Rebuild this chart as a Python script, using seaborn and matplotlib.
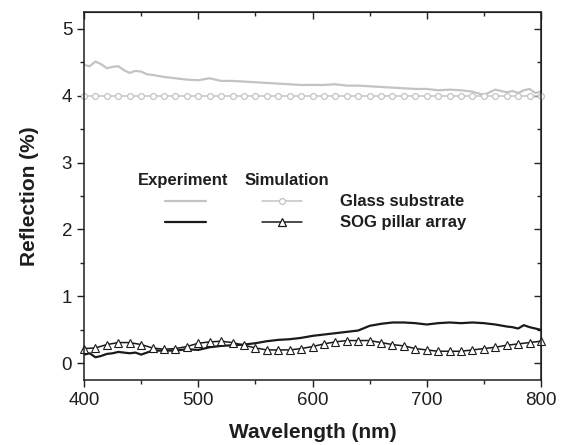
import numpy as np
import pandas as pd
import matplotlib
matplotlib.use("Agg")
import matplotlib.pyplot as plt
import seaborn as sns
from matplotlib.lines import Line2D

wl_exp = [400, 405, 410, 415, 420, 425, 430, 435, 440, 445, 450, 455, 460, 470, 480,
          490, 500, 510, 520, 530, 540, 550, 560, 570, 580, 590, 600, 610, 620, 630,
          640, 650, 660, 670, 680, 690, 700, 710, 720, 730, 740, 750, 760, 770, 775,
          780, 785, 790, 795, 800]
glass_exp = [4.46, 4.44, 4.51, 4.47, 4.41, 4.43, 4.44, 4.38, 4.34, 4.37, 4.36, 4.32, 4.31,
             4.28, 4.26, 4.24, 4.23, 4.26, 4.22, 4.22, 4.21, 4.20, 4.19, 4.18, 4.17, 4.16,
             4.16, 4.16, 4.17, 4.15, 4.15, 4.14, 4.13, 4.12, 4.11, 4.10, 4.10, 4.08, 4.09,
             4.08, 4.06, 4.01, 4.09, 4.05, 4.07, 4.04, 4.08, 4.10, 4.04, 4.06]
sog_exp = [0.13, 0.15, 0.09, 0.11, 0.14, 0.15, 0.17, 0.16, 0.15, 0.16, 0.13, 0.16, 0.19,
           0.19, 0.19, 0.21, 0.20, 0.24, 0.26, 0.27, 0.28, 0.30, 0.33, 0.35, 0.36, 0.38,
           0.41, 0.43, 0.45, 0.47, 0.49, 0.56, 0.59, 0.61, 0.61, 0.60, 0.58, 0.60, 0.61,
           0.60, 0.61, 0.60, 0.58, 0.55, 0.54, 0.52, 0.57, 0.54, 0.52, 0.50]

# simulated spectra, 10 nm steps
wl_sim = list(range(400, 801, 10))
glass_sim = [4.0] * len(wl_sim)
sog_sim = [0.22, 0.23, 0.28, 0.31, 0.31, 0.28, 0.23, 0.21, 0.22, 0.25, 0.30, 0.32, 0.33,
           0.31, 0.27, 0.23, 0.20, 0.20, 0.20, 0.22, 0.25, 0.29, 0.32, 0.34, 0.34, 0.34,
           0.31, 0.28, 0.26, 0.22, 0.20, 0.18, 0.18, 0.18, 0.20, 0.22, 0.24, 0.27, 0.29,
           0.31, 0.33]

GRAY = "#c3c3c3"
BLACK = "#1a1a1a"
TXT = "#1e1e1e"

sns.set_style("ticks")
plt.rcParams['font.family'] = ['Liberation Sans', 'DejaVu Sans']

fig = plt.figure(figsize=(5.62, 4.45), dpi=100)
ax = fig.add_axes([0.1495, 0.146, 0.8131, 0.827])

df_exp = pd.DataFrame({'wl': wl_exp, 'glass': glass_exp, 'sog': sog_exp})
df_sim = pd.DataFrame({'wl': wl_sim, 'glass': glass_sim, 'sog': sog_sim})

sns.lineplot(data=df_exp, x='wl', y='glass', color=GRAY, lw=1.6, ax=ax)
sns.lineplot(data=df_exp, x='wl', y='sog', color=BLACK, lw=1.6, ax=ax)
sns.lineplot(data=df_sim, x='wl', y='glass', color=GRAY, lw=1.1, marker='o', ms=4.2,
             mfc='white', mec=GRAY, mew=0.9, ax=ax, clip_on=False)
sns.lineplot(data=df_sim, x='wl', y='sog', color=BLACK, lw=1.1, marker='^', ms=5.8,
             mfc='white', mec=BLACK, mew=0.8, ax=ax, clip_on=False)

ax.set_xlim(400, 800)
ax.set_ylim(-0.25, 5.25)
ax.set_xticks([400, 500, 600, 700, 800])
ax.set_xticks(np.arange(450, 800, 100), minor=True)
ax.set_yticks([0, 1, 2, 3, 4, 5])
ax.set_yticks(np.arange(0.5, 5.1, 1.0), minor=True)
ax.tick_params(which='major', direction='out', length=5, width=1, labelsize=13.5,
               colors=TXT)
ax.tick_params(which='minor', direction='out', length=3, width=1)
for s in ax.spines.values():
    s.set_linewidth(1.1)
    s.set_color(TXT)

# mirrored inward ticks on top and right
top = ax.secondary_xaxis('top')
top.set_xticks([400, 500, 600, 700, 800])
top.set_xticks(np.arange(450, 800, 100), minor=True)
top.tick_params(which='major', direction='in', length=5, width=1, labeltop=False)
top.tick_params(which='minor', direction='in', length=3, width=1)
right = ax.secondary_yaxis('right')
right.set_yticks([0, 1, 2, 3, 4, 5])
right.set_yticks(np.arange(0.5, 5.1, 1.0), minor=True)
right.tick_params(which='major', direction='in', length=5, width=1, labelright=False)
right.tick_params(which='minor', direction='in', length=3, width=1)

ax.set_xlabel('Wavelength (nm)', fontsize=15, fontweight='bold', labelpad=10, color=TXT)
ax.set_ylabel('Reflection (%)', fontsize=15, fontweight='bold', labelpad=16, color=TXT)

# hand-built legend
tr = ax.transAxes
fs = 12
ax.text(0.217, 0.543, 'Experiment', transform=tr, ha='center', va='center',
        fontsize=fs, fontweight='bold', color=TXT)
ax.text(0.444, 0.543, 'Simulation', transform=tr, ha='center', va='center',
        fontsize=fs, fontweight='bold', color=TXT)
ax.text(0.560, 0.486, 'Glass substrate', transform=tr, ha='left', va='center',
        fontsize=fs, fontweight='bold', color=TXT)
ax.text(0.560, 0.429, 'SOG pillar array', transform=tr, ha='left', va='center',
        fontsize=fs, fontweight='bold', color=TXT)
for yy, col, mk, ms in [(0.486, GRAY, 'o', 4.2), (0.429, BLACK, '^', 5.8)]:
    ax.add_line(Line2D([0.177, 0.267], [yy, yy], transform=tr, color=col, lw=1.6))
    ax.add_line(Line2D([0.39, 0.477], [yy, yy], transform=tr, color=col, lw=1.1))
    ax.add_line(Line2D([0.433], [yy], transform=tr, marker=mk, ms=ms, mfc='white',
                       mec=col, mew=0.9, ls='none'))

fig.savefig('out.png', dpi=100)
